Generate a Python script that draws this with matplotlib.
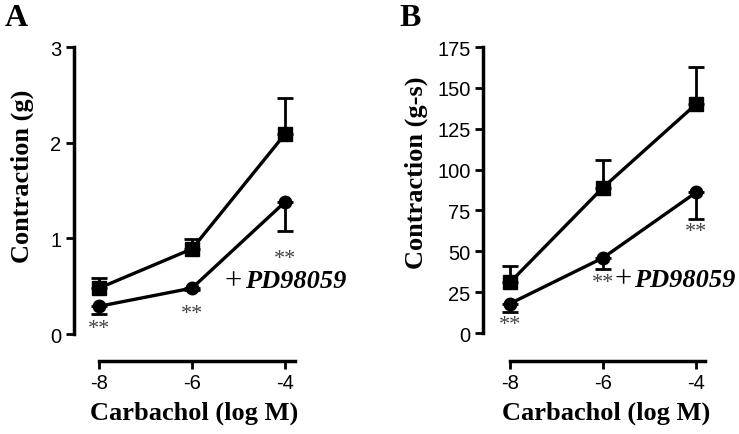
import matplotlib
matplotlib.use("Agg")
import matplotlib.pyplot as plt

plt.rcParams["axes.unicode_minus"] = False

# data
log_carbachol = [-8, -6, -4]

a_control = [0.48, 0.89, 2.09]
a_control_err = [0.11, 0.10, 0.38]
a_pd = [0.29, 0.48, 1.38]
a_pd_err = [0.08, 0.02, 0.30]

b_control = [31, 89, 140]
b_control_err = [10, 17, 23]
b_pd = [18, 46, 86]
b_pd_err = [5, 7, 16]

a_yticks = [0, 1, 2, 3]
b_yticks = [0, 25, 50, 75, 100, 125, 150, 175]
x_ticks = [-8, -6, -4]

W, H = 739, 435
fig = plt.figure(figsize=(W / 100, H / 100), dpi=100)


def px_axes(left, right, top, bottom):
    return fig.add_axes([left / W, 1 - bottom / H, (right - left) / W, (bottom - top) / H])


def draw_panel(ax, xlim, ylim, yticks, ctrl, ctrl_err, pd, pd_err):
    ax.plot(log_carbachol, ctrl, color="black", lw=2.4, marker="s", ms=10, clip_on=False, zorder=3)
    ax.errorbar(log_carbachol, ctrl, yerr=[[0, 0, 0], ctrl_err], fmt="none", ecolor="black",
                elinewidth=2, capsize=6, capthick=2, clip_on=False)
    ax.plot(log_carbachol, pd, color="black", lw=2.4, marker="o", ms=9, clip_on=False, zorder=3)
    ax.errorbar(log_carbachol, pd, yerr=[pd_err, [0, 0, 0]], fmt="none", ecolor="black",
                elinewidth=2, capsize=6, capthick=2, clip_on=False)
    ax.set_xlim(*xlim)
    ax.set_ylim(*ylim)
    ax.set_xticks(x_ticks)
    ax.set_yticks(yticks)
    ax.spines["top"].set_visible(False)
    ax.spines["right"].set_visible(False)
    ax.spines["left"].set_linewidth(2.5)
    ax.spines["bottom"].set_linewidth(2.5)
    ax.spines["left"].set_bounds(yticks[0], yticks[-1])
    ax.spines["bottom"].set_bounds(x_ticks[0], xlim[1])
    ax.tick_params(width=2, length=6, labelsize=14.5, pad=3)
    for lab in ax.get_xticklabels() + ax.get_yticklabels():
        lab.set_family("Liberation Sans")
    ax.patch.set_alpha(0)


ax_a = px_axes(74, 295, 48, 362)
draw_panel(ax_a, (-8.54, -3.785), (-0.282, 3.0), a_yticks, a_control, a_control_err, a_pd, a_pd_err)

ax_b = px_axes(483, 705, 48, 362)
draw_panel(ax_b, (-8.58, -3.806), (-17.1, 175), b_yticks, b_control, b_control_err, b_pd, b_pd_err)

serif = "Liberation Serif"
star_color = "#444444"

# labels
for x, letter in [(16, "A"), (410, "B")]:
    fig.text(x / W, 1 - 18 / H, letter, family=serif, weight="bold", fontsize=23, ha="center", va="center")
for x, y, ylab in [(22, 176, "Contraction (g)"), (416, 173, "Contraction (g-s)")]:
    fig.text(x / W, 1 - y / H, ylab, family=serif, weight="bold", fontsize=19, rotation=90,
             ha="center", va="center")
for cx in [194, 606]:
    fig.text(cx / W, 1 - 413 / H, "Carbachol (log M)", family=serif, weight="bold", fontsize=19,
             ha="center", va="center")

# significance marks
for ax, pts in [(ax_a, [(-8, 0.06), (-6, 0.21), (-4, 0.79)]), (ax_b, [(-8, 5), (-6, 31), (-4, 62)])]:
    for x, y in pts:
        ax.text(x, y, "**", family=serif, fontsize=16, color=star_color, ha="center", va="center",
                clip_on=False)

# + PD98059 labels
ax_a.text(-5.3, 0.56, "+", family=serif, fontsize=22, ha="left", va="center")
ax_a.text(-4.85, 0.56, "PD98059", family=serif, fontsize=19, weight="bold", style="italic",
          ha="left", va="center")
ax_b.text(-5.75, 33, "+", family=serif, fontsize=22, ha="left", va="center")
ax_b.text(-5.33, 33, "PD98059", family=serif, fontsize=19, weight="bold", style="italic",
          ha="left", va="center")

fig.savefig("out.png", dpi=100)
